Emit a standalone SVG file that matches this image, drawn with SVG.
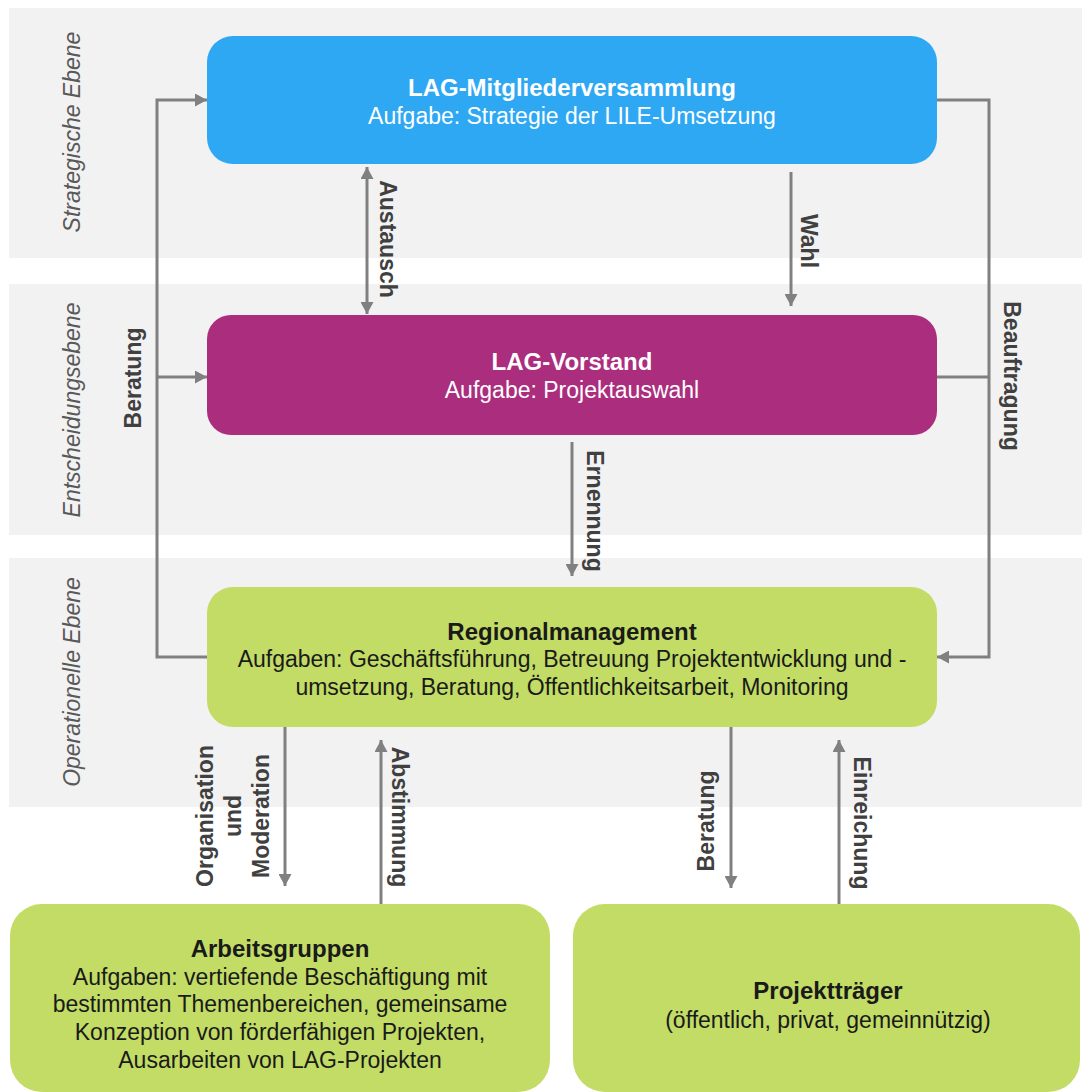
<svg xmlns="http://www.w3.org/2000/svg" width="1082" height="1092" viewBox="0 0 1082 1092">
<defs>
<marker id="ah" viewBox="0 0 12 13" refX="12" refY="6.5" markerWidth="12" markerHeight="13" markerUnits="userSpaceOnUse" orient="auto-start-reverse">
<path d="M0,0 L12,6.5 L0,13 z" fill="#808080"/>
</marker>
</defs>
<style>
.band{fill:#f2f2f2}
.lane{font-family:"Liberation Sans",Arial,sans-serif;font-size:23px;font-style:italic;fill:#595959;text-anchor:middle}
.ttl{font-family:"Liberation Sans",Arial,sans-serif;font-size:24px;font-weight:bold;text-anchor:middle}
.body{font-family:"Liberation Sans",Arial,sans-serif;font-size:23px;text-anchor:middle}
.w{fill:#ffffff}
.d{fill:#1a1a1a}
.lbl{font-family:"Liberation Sans",Arial,sans-serif;font-size:23px;font-weight:bold;fill:#404040;text-anchor:middle}
.con{fill:none;stroke:#808080;stroke-width:3}
</style>
<rect width="1082" height="1092" fill="#ffffff"/>
<g id="bands">
<rect class="band" x="9" y="8" width="1073" height="250"/>
<rect class="band" x="9" y="284" width="1073" height="251"/>
<rect class="band" x="9" y="558" width="1073" height="249"/>
<text class="lane" transform="translate(72,132) rotate(-90)" dy="0.35em">Strategische Ebene</text>
<text class="lane" transform="translate(72,410) rotate(-90)" dy="0.35em">Entscheidungsebene</text>
<text class="lane" transform="translate(72,682) rotate(-90)" dy="0.35em">Operationelle Ebene</text>
</g>
<g id="connectors">
<path class="con" d="M207,657 H157 V100 H207" marker-end="url(#ah)"/>
<path class="con" d="M157,377 H207" marker-end="url(#ah)"/>
<path class="con" d="M937,100 H989 V657 H937" marker-end="url(#ah)"/>
<path class="con" d="M937,377 H989"/>
<path class="con" d="M367,167 V314" marker-start="url(#ah)" marker-end="url(#ah)"/>
<path class="con" d="M791,172 V306" marker-end="url(#ah)"/>
<path class="con" d="M572,442 V576" marker-end="url(#ah)"/>
<path class="con" d="M285,727 V886" marker-end="url(#ah)"/>
<path class="con" d="M381,904 V740" marker-end="url(#ah)"/>
<path class="con" d="M731,727 V888" marker-end="url(#ah)"/>
<path class="con" d="M839,904 V740" marker-end="url(#ah)"/>
<text class="lbl" transform="translate(133,378) rotate(-90)" dy="0.35em">Beratung</text>
<text class="lbl" transform="translate(388,239) rotate(90)" dy="0.35em">Austausch</text>
<text class="lbl" transform="translate(809,241) rotate(90)" dy="0.35em">Wahl</text>
<text class="lbl" transform="translate(1012,376) rotate(90)" dy="0.35em">Beauftragung</text>
<text class="lbl" transform="translate(595,511) rotate(90)" dy="0.35em">Ernennung</text>
<text class="lbl" transform="translate(233,816) rotate(-90)"><tspan x="0" y="-20">Organisation</tspan><tspan x="0" y="8">und</tspan><tspan x="0" y="36">Moderation</tspan></text>
<text class="lbl" transform="translate(400,817) rotate(90)" dy="0.35em">Abstimmung</text>
<text class="lbl" transform="translate(706,821) rotate(-90)" dy="0.35em">Beratung</text>
<text class="lbl" transform="translate(862,823) rotate(90)" dy="0.35em">Einreichung</text>
</g>
<g id="mitgliederversammlung">
<rect x="207" y="36" width="730" height="128" rx="26" fill="#2fa8f4"/>
<text class="ttl w" x="572" y="96">LAG-Mitgliederversammlung</text>
<text class="body w" x="572" y="124">Aufgabe: Strategie der LILE-Umsetzung</text>
</g>
<g id="vorstand">
<rect x="207" y="315" width="730" height="120" rx="24" fill="#ab2d7e"/>
<text class="ttl w" x="572" y="370">LAG-Vorstand</text>
<text class="body w" x="572" y="398">Aufgabe: Projektauswahl</text>
</g>
<g id="regionalmanagement">
<rect x="207" y="587" width="730" height="140" rx="26" fill="#c2dc65"/>
<text class="ttl d" x="572" y="640">Regionalmanagement</text>
<text class="body d" x="572" y="667">Aufgaben: Geschäftsführung, Betreuung Projektentwicklung und -</text>
<text class="body d" x="572" y="695">umsetzung, Beratung, Öffentlichkeitsarbeit, Monitoring</text>
</g>
<g id="arbeitsgruppen">
<rect x="10" y="904" width="540" height="188" rx="32" fill="#c2dc65"/>
<text class="ttl d" x="280" y="957">Arbeitsgruppen</text>
<text class="body d" x="280" y="985">Aufgaben: vertiefende Beschäftigung mit</text>
<text class="body d" x="280" y="1012">bestimmten Themenbereichen, gemeinsame</text>
<text class="body d" x="280" y="1040">Konzeption von förderfähigen Projekten,</text>
<text class="body d" x="280" y="1068">Ausarbeiten von LAG-Projekten</text>
</g>
<g id="projekttraeger">
<rect x="573" y="904" width="507" height="188" rx="32" fill="#c2dc65"/>
<text class="ttl d" x="828" y="999">Projektträger</text>
<text class="body d" x="828" y="1028">(öffentlich, privat, gemeinnützig)</text>
</g>
</svg>
